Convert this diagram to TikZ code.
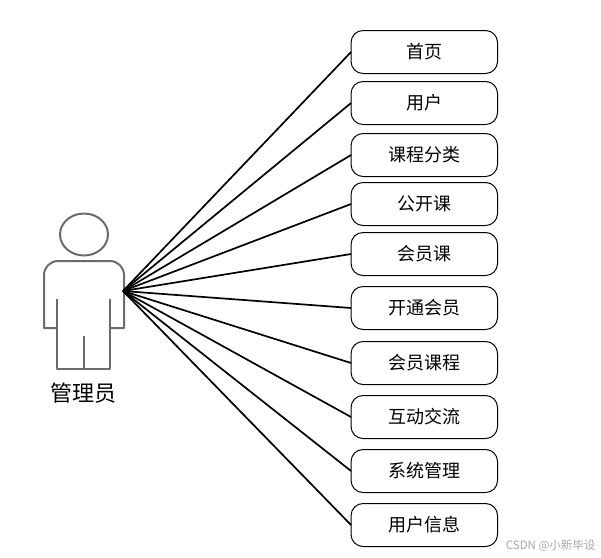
\documentclass[tikz,border=0pt]{standalone}
\usepackage{fontspec}
\setmainfont{Noto Sans CJK SC}
\usepackage{tikz}
\usetikzlibrary{positioning}
\newcommand{\boxfont}{\fontsize{18}{20}\selectfont}

\begin{document}
\begin{tikzpicture}[
  x=1pt, y=-1pt,
  b/.style={draw, rounded corners=12pt, align=center, minimum width=146.5pt, minimum height=43pt, inner sep=0pt, outer sep=0pt, line width=1pt, font=\boxfont},
  pf/.style={line width=1.7pt, black},
  fig/.style={draw=black!58, line width=2pt, line join=round}
]
\useasboundingbox (0,0) rectangle (601,557);
\node[b] (home) at (424.3,52) {首页};
\node[b, below=8pt of home] (user) {用户};
\node[b, below=9pt of user] (cat) {课程分类};
\node[b, below=6pt of cat] (open) {公开课};
\node[b, below=7pt of open] (vip) {会员课};
\node[b, below=11pt of vip] (join) {开通会员};
\node[b, below=12pt of join] (vipc) {会员课程};
\node[b, below=11pt of vipc] (talk) {互动交流};
\node[b, below=11pt of talk] (sys) {系统管理};
\node[b, below=11pt of sys] (info) {用户信息};
% actor
\draw[fig] (84,234.5) ellipse [x radius=24, y radius=21];
\draw[fig] (57,328) -- (44,328) [rounded corners=14pt] -- (44,261) -- (124,261) [sharp corners] -- (124,328) -- (110,328);
\draw[fig] (57,299) -- (57,369) -- (110,369) -- (110,299);
\draw[fig] (83.5,336) -- (83.5,369);
\node[font=\fontsize{22}{24}\selectfont] (admin) at (83,393.5) {管理员};
\coordinate (hub) at (123,291);
\draw[pf] (hub)--(home.west); \draw[pf] (hub)--(user.west); \draw[pf] (hub)--(cat.west);
\draw[pf] (hub)--(open.west); \draw[pf] (hub)--(vip.west); \draw[pf] (hub)--(join.west);
\draw[pf] (hub)--(vipc.west); \draw[pf] (hub)--(talk.west); \draw[pf] (hub)--(sys.west);
\draw[pf] (hub)--(info.west);
\node[text=black!35, font=\fontsize{11.5}{13}\selectfont, anchor=east] (mark) at (599,546) {CSDN @小新毕设};
\end{tikzpicture}
\end{document}
